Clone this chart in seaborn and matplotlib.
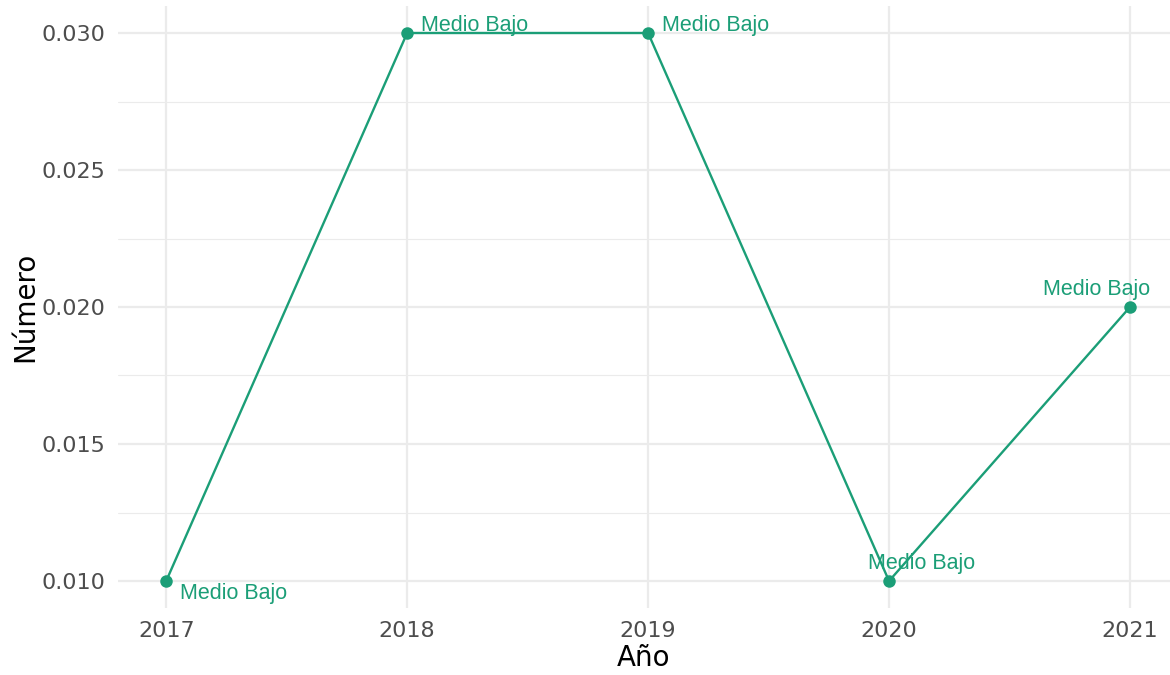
import matplotlib
matplotlib.use("Agg")
import matplotlib.pyplot as plt
import seaborn as sns
import pandas as pd
from matplotlib.ticker import FixedLocator

years = [2017, 2018, 2019, 2020, 2021]
values = [0.010, 0.030, 0.030, 0.010, 0.020]
labels = ["Medio Bajo", "Medio Bajo", "Medio Bajo", "Medio Bajo", "Medio Bajo"]
yticks = [0.010, 0.015, 0.020, 0.025, 0.030]
ytick_labels = ["0.010", "0.015", "0.020", "0.025", "0.030"]

df = pd.DataFrame({"Año": years, "Número": values, "label": labels})

sns.set_theme(style="white")
plt.rcParams["font.family"] = ["DejaVu Sans"]

color = "#1b9e77"
fig = plt.figure(figsize=(11.7, 6.75), dpi=100)
ax = fig.add_axes([118 / 1170, 1 - 608.4 / 675, 1 - 118 / 1170, (608.4 - 5.6) / 675])

ax.set_xlim(2017 - 0.2, 2021 + 40 / 241)
ax.set_ylim(0.009, 0.031)

ax.yaxis.set_major_locator(FixedLocator(yticks))
ax.yaxis.set_minor_locator(FixedLocator([0.0125, 0.0175, 0.0225, 0.0275]))
ax.xaxis.set_major_locator(FixedLocator(years))
ax.grid(which="major", color="#ebebeb", linewidth=1.6)
ax.grid(which="minor", axis="y", color="#ebebeb", linewidth=0.8)
ax.set_axisbelow(True)

sns.lineplot(data=df, x="Año", y="Número", ax=ax, color=color, linewidth=1.7,
             marker="o", markersize=9, markeredgewidth=0, markerfacecolor=color)

# label offsets in pixels (dx, dy, ha)
offsets = [(14, -12, "left"), (14, 8, "left"), (14, 8, "left"), (33, 18, "center"), (-33, 18, "center")]
for (x, y, t), (dx, dy, ha) in zip(zip(years, values, labels), offsets):
    ax.annotate(t, (x, y), xytext=(dx * 0.72, dy * 0.72), textcoords="offset points",
                ha=ha, va="center", color=color, fontsize=15.5,
                family=["Liberation Sans", "DejaVu Sans"])

ax.set_yticklabels(ytick_labels)
ax.set_xticklabels([str(y) for y in years])
ax.tick_params(axis="y", which="both", length=0, labelsize=16, labelcolor="#4d4d4d", pad=9)
ax.tick_params(axis="x", which="both", length=0, labelsize=16, labelcolor="#4d4d4d", pad=9)
ax.set_xlabel("Año", fontsize=20, color="black", labelpad=2)
ax.set_ylabel("Número", fontsize=20, color="black", labelpad=2)
for s in ax.spines.values():
    s.set_visible(False)

fig.savefig("out.png", dpi=100)
